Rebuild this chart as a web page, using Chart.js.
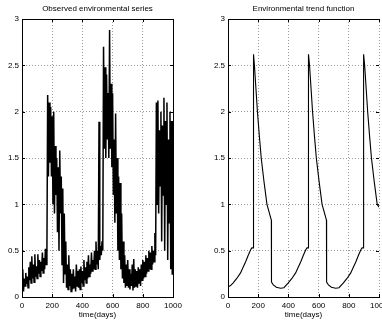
<!DOCTYPE html>
<html>
<head>
<meta charset="utf-8">
<script src="https://cdn.jsdelivr.net/npm/chart.js@4.4.0/dist/chart.umd.min.js"></script>
<style>
  html, body { margin: 0; padding: 0; background: #fff; overflow: hidden; width: 382px; height: 323px; }
  .panel { position: absolute; top: 0; width: 191px; height: 323px; }
</style>
</head>
<body>
<div class="panel" style="left:0"><canvas id="obsChart" width="191" height="323"></canvas></div>
<div class="panel" style="left:206px"><canvas id="trendChart" width="191" height="323"></canvas></div>
<script>
// observed series, one reading every 5 days (0..1000)
const obsStep = 5;
const obsValues = [
  0.10, 0.30, 0.06, 0.20, 0.12, 0.26, 0.14, 0.22, 0.10, 0.32,
  0.18, 0.38, 0.15, 0.44, 0.20, 0.35, 0.16, 0.46, 0.22, 0.33,
  0.20, 0.46, 0.25, 0.40, 0.22, 0.38, 0.28, 0.48, 0.26, 0.42,
  0.30, 0.52, 0.35, 0.48, 2.18, 1.30, 2.10, 1.45, 2.05, 1.30,
  1.95, 1.00, 2.00, 0.90, 1.63, 1.10, 1.50, 0.70, 1.40, 0.50,
  1.58, 0.90, 1.30, 0.35, 1.17, 0.15, 0.90, 0.25, 0.60, 0.10,
  0.35, 0.08, 0.45, 0.12, 0.30, 0.06, 0.25, 0.08, 0.30, 0.10,
  0.22, 0.06, 0.35, 0.12, 0.28, 0.10, 0.30, 0.08, 0.33, 0.15,
  0.28, 0.12, 0.40, 0.18, 0.32, 0.15, 0.38, 0.20, 0.45, 0.22,
  0.35, 0.25, 0.48, 0.28, 0.40, 0.30, 0.50, 0.30, 0.60, 0.35,
  0.50, 0.30, 1.89, 0.40, 0.55, 0.45, 0.60, 0.50, 2.70, 1.60,
  2.48, 1.50, 2.40, 1.70, 2.20, 1.50, 2.88, 1.60, 2.30, 1.40,
  2.20, 1.10, 1.70, 0.80, 1.98, 0.90, 1.50, 0.50, 1.30, 0.40,
  1.23, 0.30, 0.90, 0.20, 0.60, 0.15, 0.45, 0.10, 0.35, 0.12,
  0.40, 0.10, 0.30, 0.08, 0.25, 0.12, 0.35, 0.07, 0.41, 0.10,
  0.30, 0.12, 0.28, 0.10, 0.32, 0.15, 0.30, 0.12, 0.35, 0.18,
  0.40, 0.20, 0.38, 0.22, 0.45, 0.25, 0.42, 0.28, 0.50, 0.30,
  0.48, 0.30, 0.55, 0.35, 0.50, 0.38, 0.69, 0.45, 2.10, 1.00,
  2.12, 0.90, 1.80, 1.20, 2.00, 0.60, 1.85, 1.10, 2.15, 0.50,
  1.90, 1.00, 2.10, 0.40, 1.70, 0.80, 2.00, 0.30, 1.90, 0.24, 1.90
];

// trend function, read at its turning points
const trendDays = [
  0, 15, 33, 58, 83, 100, 117, 134, 150, 158, 168, 169, 175, 185, 195, 207, 220, 238, 258, 287,
  288, 300, 320, 348, 370, 398, 423, 448, 465, 482, 499, 515, 523, 532, 533, 540, 550, 560, 572, 585,
  603, 623, 652, 653, 665, 685, 713, 735, 763, 788, 813, 830, 847, 864, 880, 888, 897, 898, 905, 915,
  925, 937, 950, 968, 988, 1000
];
const trendValues = [
  0.11, 0.12, 0.15, 0.20, 0.26, 0.32, 0.38, 0.45, 0.51, 0.53, 0.53, 2.62, 2.50, 2.25, 2.00, 1.75, 1.50, 1.25, 1.00, 0.83,
  0.16, 0.13, 0.105, 0.095, 0.10, 0.15, 0.20, 0.26, 0.32, 0.38, 0.45, 0.51, 0.53, 0.53, 2.62, 2.50, 2.25, 2.00, 1.75, 1.50,
  1.25, 1.00, 0.83, 0.16, 0.13, 0.105, 0.095, 0.10, 0.15, 0.20, 0.26, 0.32, 0.38, 0.45, 0.51, 0.53, 0.53, 2.62, 2.50, 2.25,
  2.00, 1.75, 1.50, 1.25, 1.00, 0.97
];

const xTicks = [0, 200, 400, 600, 800, 1000];
const yTicks = [0, 0.5, 1, 1.5, 2, 2.5, 3];

const FONT = '"Liberation Sans", Arial, sans-serif';

// box top/right, inward tick marks and the panel title
const frame = {
  id: 'frame',
  afterDraw(chart, args, opts) {
    const { ctx, chartArea: a, scales: { x, y } } = chart;
    ctx.save();
    ctx.strokeStyle = '#000';
    ctx.lineWidth = 1;
    ctx.beginPath();
    const top = Math.round(a.top) + 0.5;
    const right = Math.round(a.right) + 0.5;
    ctx.moveTo(a.left, top); ctx.lineTo(a.right, top);
    if (opts.rightBorder) { ctx.moveTo(right, a.top); ctx.lineTo(right, a.bottom); }
    x.ticks.forEach(t => {
      const px = Math.round(x.getPixelForValue(t.value)) + 0.5;
      ctx.moveTo(px, a.bottom); ctx.lineTo(px, a.bottom - 3);
      ctx.moveTo(px, a.top); ctx.lineTo(px, a.top + 3);
    });
    y.ticks.forEach(t => {
      const py = Math.round(y.getPixelForValue(t.value)) + 0.5;
      ctx.moveTo(a.left, py); ctx.lineTo(a.left + 3, py);
      ctx.moveTo(a.right, py); ctx.lineTo(a.right - 3, py);
    });
    ctx.stroke();
    ctx.fillStyle = '#000';
    ctx.font = '8px ' + FONT;
    ctx.textAlign = 'center';
    ctx.textBaseline = 'middle';
    ctx.fillText(opts.text, (a.left + a.right) / 2, 9);
    ctx.restore();
  }
};

function makeOptions(title, rightBorder) {
  return {
    responsive: false,
    animation: false,
    devicePixelRatio: 1,
    layout: { padding: { left: 0, right: 18, top: 19, bottom: 0 } },
    plugins: {
      legend: { display: false },
      tooltip: { enabled: false },
      frame: { text: title, rightBorder: rightBorder }
    },
    elements: { point: { radius: 0 }, line: { tension: 0 } },
    scales: {
      x: {
        type: 'linear',
        min: 0, max: 1000,
        afterBuildTicks: s => { s.ticks = xTicks.map(v => ({ value: v })); },
        afterFit: s => { s.height = 26; },
        grid: { color: '#999', lineWidth: 1, drawTicks: false },
        border: { display: true, color: '#000', width: 1, dash: [1, 2] },
        ticks: {
          padding: 4, maxRotation: 0, autoSkip: false, color: '#000',
          font: { size: 8, family: FONT },
          callback: v => String(v)
        },
        title: {
          display: true, text: 'time(days)', color: '#000',
          font: { size: 8, family: FONT }, padding: { top: 0, bottom: 3 }
        }
      },
      y: {
        min: 0, max: 3,
        afterBuildTicks: s => { s.ticks = yTicks.map(v => ({ value: v })); },
        afterFit: s => { s.width = 22; },
        grid: { color: '#999', lineWidth: 1, drawTicks: false },
        border: { display: true, color: '#000', width: 1, dash: [1, 2] },
        ticks: {
          padding: 3, color: '#000',
          font: { size: 8, family: FONT },
          callback: v => String(v)
        }
      }
    }
  };
}

new Chart(document.getElementById('obsChart'), {
  type: 'line',
  data: {
    datasets: [{
      data: obsValues.map((v, i) => ({ x: i * obsStep, y: v })),
      borderColor: '#000',
      borderWidth: 1.5
    }]
  },
  options: makeOptions('Observed environmental series', true),
  plugins: [frame]
});

new Chart(document.getElementById('trendChart'), {
  type: 'line',
  data: {
    datasets: [{
      data: trendDays.map((d, i) => ({ x: d, y: trendValues[i] })),
      borderColor: '#000',
      borderWidth: 1.1
    }]
  },
  options: makeOptions('Environmental trend function', false),
  plugins: [frame]
});
</script>
</body>
</html>
